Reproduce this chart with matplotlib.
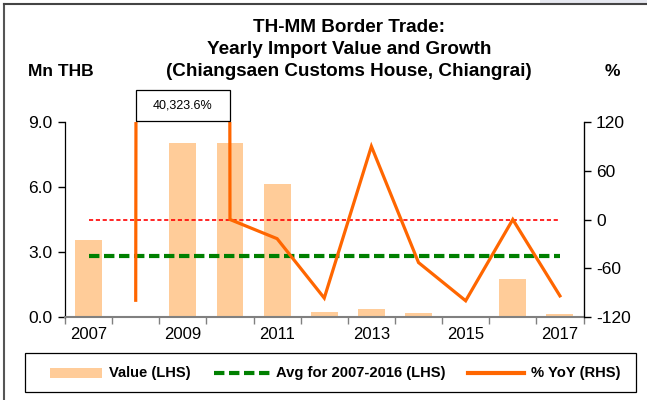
import numpy as np
import matplotlib
matplotlib.use("Agg")
import matplotlib.pyplot as plt
from matplotlib.patches import Rectangle
from matplotlib.lines import Line2D
from matplotlib.transforms import blended_transform_factory

plt.rcParams['font.family'] = ['Liberation Sans', 'DejaVu Sans']

years = [2007, 2008, 2009, 2010, 2011, 2012, 2013, 2014, 2015, 2016, 2017]
value_mn_thb = [3.55, 0.02, 8.05, 8.05, 6.15, 0.22, 0.38, 0.18, 0.0, 1.75, 0.12]
yoy_pct = [np.nan, -99.4, 40323.6, 0.0, -23.6, -96.7, 90.0, -53.0, -100.0, 0.0, -94.0]
avg_years = (2007, 2016)
left_ticks = [0.0, 3.0, 6.0, 9.0]
right_ticks = [-120, -60, 0, 60, 120]
label_years = [2007, 2009, 2011, 2013, 2015, 2017]
title_lines = ['TH-MM Border Trade:', 'Yearly Import Value and Growth',
               '(Chiangsaen Customs House, Chiangrai)']
legend_labels = ['Value (LHS)', 'Avg for 2007-2016 (LHS)', '% YoY (RHS)']

BAR = '#FFCC99'
ORANGE = '#FF6600'
GREEN = '#008000'
GREEN_DASH = (2.5, 1.1)

W, H = 647, 400
fig = plt.figure(figsize=(W / 100, H / 100), dpi=100)
fig.patch.set_facecolor('white')


def fx(px):
    return px / W


def fy(py):
    return 1 - py / H


ax_l, ax_r, ax_t, ax_b = 65, 583.5, 122, 317
ax = fig.add_axes([fx(ax_l), fy(ax_b), (ax_r - ax_l) / W, (ax_b - ax_t) / H])
ax2 = ax.twinx()

x = np.arange(len(years))
vals = np.array(value_mn_thb)
i0, i1 = years.index(avg_years[0]), years.index(avg_years[1])
avg = vals[i0:i1 + 1].mean()

ax.bar(x, vals, width=0.57, color=BAR, zorder=1)
ax.plot([x[0], x[-1]], [avg, avg], color=GREEN, lw=3.0, dashes=GREEN_DASH, zorder=2)

ax2.plot([x[0], x[-1]], [0, 0], color='#FF0000', lw=1.2, dashes=(2.5, 1.6), zorder=2)
ax2.plot(x, yoy_pct, color=ORANGE, lw=2.3, zorder=3, solid_joinstyle='miter')

ax.set_xlim(-0.5, len(years) - 0.5)
ax.set_ylim(0, 9)
ax2.set_ylim(-120, 120)

ax.set_yticks(left_ticks)
ax.set_yticklabels([f'{t:.1f}' for t in left_ticks])
ax2.set_yticks(right_ticks)
ax2.set_yticklabels([str(t) for t in right_ticks])

ax.set_xticks(np.arange(-0.5, len(years), 1.0))
ax.set_xticklabels([])
ax.set_xticks([years.index(y) for y in label_years], minor=True)
ax.set_xticklabels([str(y) for y in label_years], minor=True)
ax.tick_params(axis='x', which='major', direction='out', length=5, width=1, color='#808080')
ax.tick_params(axis='x', which='minor', length=0, pad=7, labelsize=12)
ax.tick_params(axis='y', direction='out', length=5, width=1, labelsize=12.5, pad=4)
ax2.tick_params(axis='y', direction='out', length=5, width=1, labelsize=12.5, pad=4)

for a in (ax, ax2):
    a.spines['top'].set_visible(False)
    a.set_facecolor('none')
ax.spines['bottom'].set_color('#808080')
ax.spines['bottom'].set_linewidth(1.5)
ax.spines['left'].set_color('black')
ax.spines['left'].set_linewidth(0.9)
ax2.spines['right'].set_color('black')
ax2.spines['right'].set_linewidth(0.9)
ax2.spines['bottom'].set_visible(False)
ax2.spines['left'].set_visible(False)

# off-scale value box for 2009
i_peak = years.index(2009)
tr = blended_transform_factory(ax2.transData, ax2.transAxes)
box_h = 31 / (ax_b - ax_t)
box_y0 = 1 + 1 / (ax_b - ax_t)
ax2.add_patch(Rectangle((i_peak - 1, box_y0), 2, box_h, transform=tr,
                        facecolor='white', edgecolor='black', lw=0.9, clip_on=False, zorder=5))
ax2.text(i_peak, box_y0 + box_h / 2, f'{yoy_pct[i_peak]:,.1f}%', transform=tr,
         ha='center', va='center', fontsize=9, zorder=6, clip_on=False)

# titles
for line, ypx in zip(title_lines, [28, 50, 71]):
    fig.text(fx(349), fy(ypx), line, ha='center', va='center', fontsize=13.6,
             fontweight='bold')
fig.text(fx(28), fy(71), 'Mn THB', ha='left', va='center', fontsize=12.5, fontweight='bold')
fig.text(fx(612), fy(72), '%', ha='center', va='center', fontsize=12.5, fontweight='bold')

# legend
fig.add_artist(Rectangle((fx(25), fy(392)), (636 - 25) / W, (392 - 353) / H,
                         facecolor='white', edgecolor='black', lw=0.9))
ly = fy(373)
fig.add_artist(Rectangle((fx(50), fy(378)), 52 / W, 10 / H, color=BAR, lw=0))
fig.add_artist(Line2D([fx(214), fx(270)], [ly, ly], color=GREEN, lw=3.0, dashes=GREEN_DASH))
fig.add_artist(Line2D([fx(468), fx(524)], [ly, ly], color=ORANGE, lw=3.0))
for label, xpx in zip(legend_labels, [109, 276, 531]):
    fig.text(fx(xpx), ly, label, ha='left', va='center', fontsize=10.6, fontweight='bold')

# outer frame lines
fig.add_artist(Line2D([fx(4), fx(4)], [0, fy(4)], color='#555555', lw=1.5))
fig.add_artist(Line2D([fx(4), 1], [fy(4), fy(4)], color='#444444', lw=1.5))
fig.add_artist(Rectangle((fx(540), fy(3)), 107 / W, 3 / H, color='#E6E8F0', lw=0))

fig.savefig('out.png', dpi=100)
